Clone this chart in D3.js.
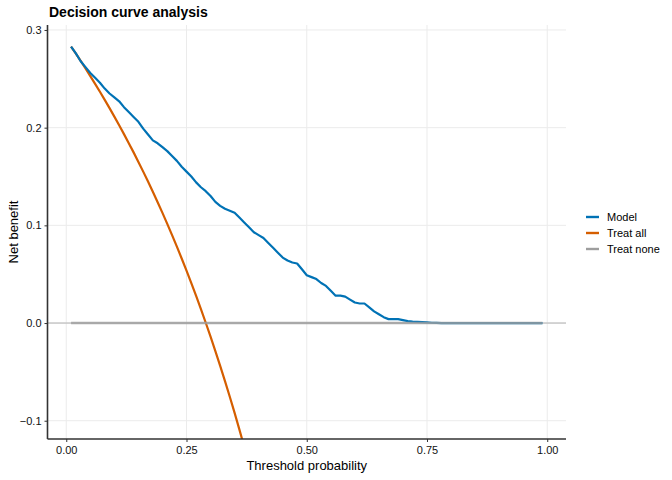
<!DOCTYPE html>
<html>
  <head>
    <meta charset="utf-8">
    <title>Decision curve analysis</title>
    <style>
      body { margin: 0; background: #fff; }
      text { font-family: "Liberation Sans", Arial, sans-serif; }
    </style>
  </head>
  <body>
    <script src="https://cdn.jsdelivr.net/npm/d3@7"></script>
    <script>
      // thresholds and net benefit
      var thresholds = [0.01,0.02,0.03,0.04,0.05,0.06,0.07,0.08,0.09,0.10,
        0.11,0.12,0.13,0.14,0.15,0.16,0.17,0.18,0.19,0.20,
        0.21,0.22,0.23,0.24,0.25,0.26,0.27,0.28,0.29,0.30,
        0.31,0.32,0.33,0.34,0.35,0.36,0.37,0.38,0.39,0.40,
        0.41,0.42,0.43,0.44,0.45,0.46,0.47,0.48,0.49,0.50,
        0.51,0.52,0.53,0.54,0.55,0.56,0.57,0.58,0.59,0.60,
        0.61,0.62,0.63,0.64,0.65,0.66,0.67,0.68,0.69,0.70,
        0.71,0.72,0.73,0.74,0.75,0.76,0.77,0.78,0.79,0.80,
        0.81,0.82,0.83,0.84,0.85,0.86,0.87,0.88,0.89,0.90,
        0.91,0.92,0.93,0.94,0.95,0.96,0.97,0.98,0.99];

      var modelNB = [0.283,0.276,0.268,0.262,0.256,0.251,0.246,0.240,0.235,0.231,
        0.227,0.221,0.216,0.211,0.206,0.199,0.193,0.187,0.184,0.180,
        0.176,0.171,0.166,0.160,0.155,0.150,0.144,0.139,0.135,0.130,
        0.124,0.120,0.117,0.115,0.113,0.108,0.103,0.098,0.093,0.090,
        0.087,0.082,0.077,0.072,0.067,0.064,0.062,0.061,0.055,0.049,
        0.047,0.045,0.041,0.038,0.033,0.028,0.028,0.027,0.024,0.021,
        0.020,0.020,0.016,0.012,0.009,0.006,0.004,0.004,0.004,0.003,
        0.002,0.0015,0.0012,0.001,0.0007,0.0003,0.0001,0,0,0,
        0,0,0,0,0,0,0,0,0,0,
        0,0,0,0,0,0,0,0,0];

      // treat all leaves the panel after about 0.37
      var treatAllNB = [0.2830,0.2757,0.2683,0.2606,0.2528,0.2449,0.2368,0.2285,0.2200,0.2113,
        0.2025,0.1934,0.1841,0.1747,0.1649,0.1550,0.1448,0.1344,0.1237,0.1128,
        0.1015,0.0900,0.0782,0.0661,0.0536,0.0408,0.0277,0.0142,0.0003,-0.0140,
        -0.0287,-0.0438,-0.0594,-0.0755,-0.0920,-0.1091,-0.1267,-0.1448];

      var treatNoneNB = thresholds.map(function(){ return 0; });

      var xTicks = [0, 0.25, 0.5, 0.75, 1];
      var yTicks = [-0.1, 0, 0.1, 0.2, 0.3];
      var seriesNames = ['Model', 'Treat all', 'Treat none'];
      var seriesColors = ['#0072B5', '#D55E00', '#9E9E9E'];

      var width = 672, height = 480;
      var pLeft = 47.5, pRight = 566, pTop = 25, pBottom = 439;

      var svg = d3.select('body').append('svg')
        .attr('width', width).attr('height', height);

      var x = d3.scaleLinear().domain([-0.039, 1.039]).range([pLeft, pRight]);
      var y = d3.scaleLinear().domain([-0.1187, 0.3051]).range([pBottom, pTop]);

      svg.append('defs').append('clipPath').attr('id', 'panel')
        .append('rect').attr('x', pLeft).attr('y', pTop)
        .attr('width', pRight - pLeft).attr('height', pBottom - pTop);

      // grid
      var grid = svg.append('g');
      grid.selectAll('.gx').data(xTicks).enter().append('line')
        .attr('x1', function(d){ return x(d); }).attr('x2', function(d){ return x(d); })
        .attr('y1', pTop).attr('y2', pBottom)
        .attr('stroke', '#ebebeb').attr('stroke-width', 1);
      grid.selectAll('.gy').data(yTicks).enter().append('line')
        .attr('y1', function(d){ return y(d); }).attr('y2', function(d){ return y(d); })
        .attr('x1', pLeft).attr('x2', pRight)
        .attr('stroke', '#ebebeb').attr('stroke-width', 1);

      // zero reference line
      svg.append('line')
        .attr('x1', pLeft).attr('x2', pRight)
        .attr('y1', y(0)).attr('y2', y(0))
        .attr('stroke', '#b3b3b3').attr('stroke-width', 1);

      var line = d3.line()
        .x(function(d){ return x(d[0]); })
        .y(function(d){ return y(d[1]); });

      var plot = svg.append('g').attr('clip-path', 'url(#panel)');

      plot.append('path')
        .datum(d3.zip(thresholds, treatAllNB))
        .attr('d', line).attr('fill', 'none')
        .attr('stroke', seriesColors[1]).attr('stroke-width', 2.2);

      plot.append('path')
        .datum(d3.zip(thresholds, modelNB))
        .attr('d', line).attr('fill', 'none')
        .attr('stroke', seriesColors[0]).attr('stroke-width', 2.2)
        .attr('stroke-linejoin', 'round');

      plot.append('path')
        .datum(d3.zip(thresholds, treatNoneNB))
        .attr('d', line).attr('fill', 'none')
        .attr('stroke', seriesColors[2]).attr('stroke-width', 2.4)
        .attr('stroke-opacity', 0.8);

      // axes
      var xAxis = svg.append('g').attr('transform', 'translate(0,' + pBottom + ')')
        .call(d3.axisBottom(x).tickValues(xTicks).tickSize(3).tickPadding(4)
          .tickFormat(d3.format('.2f')));
      var yAxis = svg.append('g').attr('transform', 'translate(' + pLeft + ',0)')
        .call(d3.axisLeft(y).tickValues(yTicks).tickSize(3).tickPadding(3)
          .tickFormat(d3.format('.1f')));

      [xAxis, yAxis].forEach(function(a){
        a.select('.domain').attr('stroke', '#333').attr('stroke-width', 1.6);
        a.selectAll('.tick line').attr('stroke', '#333').attr('stroke-width', 1);
        a.selectAll('.tick text').attr('fill', '#111').style('font-size', '11px')
          .style('font-family', '"Liberation Sans", Arial, sans-serif');
      });
      // ggplot-like domain without outer ticks
      xAxis.select('.domain').attr('d', 'M' + pLeft + ',0H' + pRight);
      yAxis.select('.domain').attr('d', 'M0,' + pTop + 'V' + pBottom);

      // labels
      svg.append('text')
        .attr('x', 49).attr('y', 17)
        .style('font-size', '14px').style('font-weight', 'bold')
        .attr('fill', '#000')
        .text('Decision curve analysis');

      svg.append('text')
        .attr('x', (pLeft + pRight) / 2).attr('y', 470)
        .attr('text-anchor', 'middle')
        .style('font-size', '13px').attr('fill', '#000')
        .text('Threshold probability');

      svg.append('text')
        .attr('transform', 'translate(18,' + ((pTop + pBottom) / 2) + ') rotate(-90)')
        .attr('text-anchor', 'middle')
        .style('font-size', '13px').attr('fill', '#000')
        .text('Net benefit');

      // legend
      var legend = svg.append('g').attr('transform', 'translate(586,217)');
      var item = legend.selectAll('g').data(seriesNames).enter().append('g')
        .attr('transform', function(d, i){ return 'translate(0,' + (i * 16) + ')'; });
      item.append('line')
        .attr('x1', 0).attr('x2', 13).attr('y1', 0).attr('y2', 0)
        .attr('stroke', function(d, i){ return seriesColors[i]; })
        .attr('stroke-width', 2.4);
      item.append('text')
        .attr('x', 21).attr('y', 4)
        .style('font-size', '11px').attr('fill', '#000')
        .text(function(d){ return d; });
    </script>
  </body>
</html>
